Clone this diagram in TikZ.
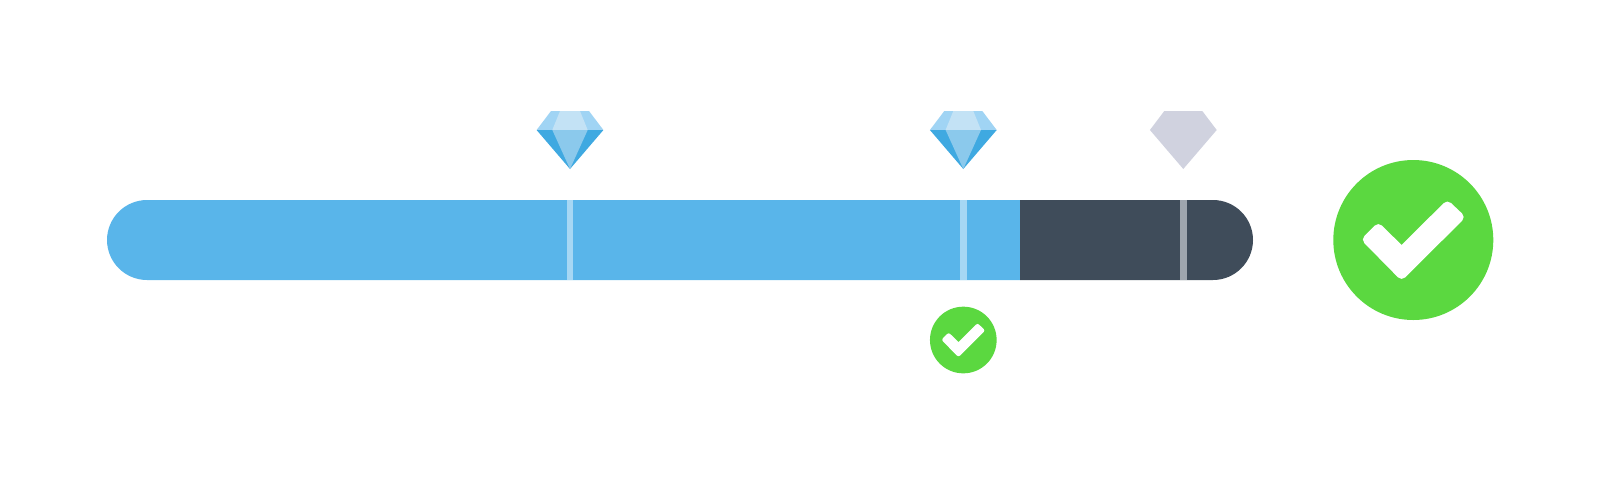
\documentclass[tikz,border=0pt]{standalone}
\definecolor{barblue}{HTML}{59B5EA}
\definecolor{bardark}{HTML}{3F4C5A}
\definecolor{ticklight}{HTML}{A6D7F4}
\definecolor{tickdark}{HTML}{9FA6AE}
\definecolor{okgreen}{HTML}{5BD840}
\definecolor{gemtop}{HTML}{A0D4F4}
\definecolor{gemtopin}{HTML}{C3E2F5}
\definecolor{gemlow}{HTML}{3FA9E1}
\definecolor{gemlowin}{HTML}{8BC9EC}
\definecolor{gemgrey}{HTML}{D0D2DF}
\tikzset{
  x=0.75pt,y=-0.75pt,
  pics/gem/.style={code={
    \fill[gemtop] (-19,-19) -- (19,-19) -- (33.4,0) -- (-33.4,0) -- cycle;
    \fill[gemtopin] (-10,-19) -- (10,-19) -- (17.7,0) -- (-17.7,0) -- cycle;
    \fill[gemlow] (-33.4,0) -- (33.4,0) -- (0,39) -- cycle;
    \fill[gemlowin] (-17.7,0) -- (17.7,0) -- (0,39) -- cycle;
  }},
  pics/greygem/.style={code={
    \fill[gemgrey] (-19,-19) -- (19,-19) -- (33.4,0) -- (0,39) -- (-33.4,0) -- cycle;
  }},
  pics/okmark/.style={code={
    \fill[okgreen] (0,0) circle[radius=#1*80];
    \fill[white] (#1*-11.7,#1*5) [rounded corners=#1*3.8pt]
      -- (#1*34,#1*-40.5) -- (#1*52.5,#1*-23) -- (#1*-11.7,#1*41)
      -- (#1*-52.5,#1*-0.5) -- (#1*-35,#1*-18) [sharp corners] -- cycle;
  }}
}
\begin{document}
\begin{tikzpicture}
\useasboundingbox (0,0) rectangle (1600,480);
\fill[barblue] (1020,200) -- (147,200) .. controls (125,200) and (107,218) .. (107,240) .. controls (107,262) and (125,280) .. (147,280) -- (1020,280) -- cycle;
\fill[bardark] (1020,200) -- (1213,200) .. controls (1235,200) and (1253,218) .. (1253,240) .. controls (1253,262) and (1235,280) .. (1213,280) -- (1020,280) -- cycle;
\fill[ticklight] (566.7,200) rectangle (573.4,280);
\fill[ticklight] (960,200) rectangle (966.7,280);
\fill[tickdark] (1180,200) rectangle (1186.7,280);
\pic at (570,130) {gem};
\pic at (963.3,130) {gem};
\pic at (1183.3,130) {greygem};
\pic at (1413.3,240) {okmark=1};
\pic at (963.3,340) {okmark=0.4167};
\end{tikzpicture}
\end{document}
